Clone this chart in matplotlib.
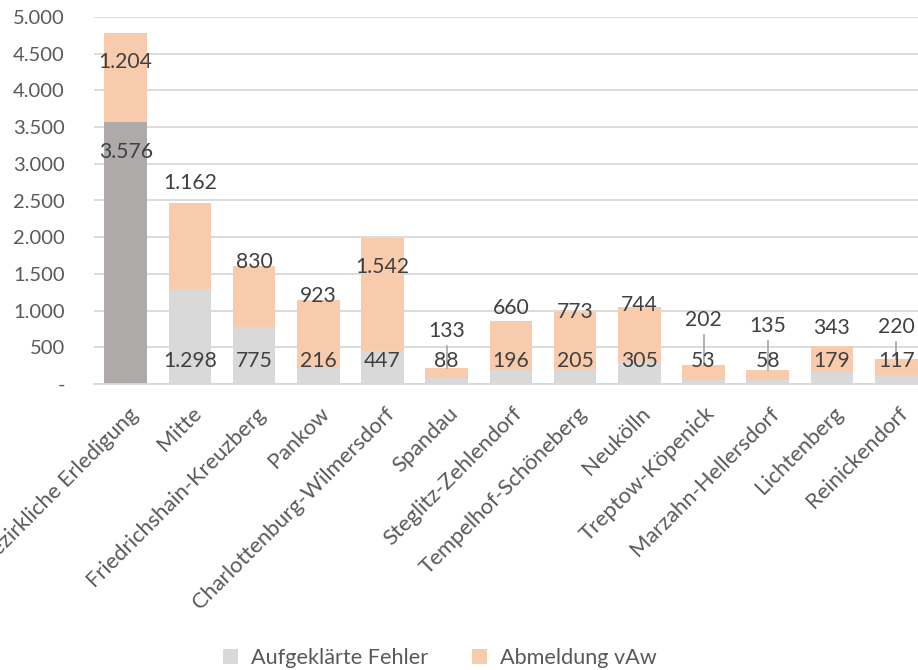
import matplotlib
matplotlib.use('Agg')
import matplotlib.pyplot as plt
import matplotlib.transforms as mtransforms
from matplotlib.patches import Patch
from matplotlib.ticker import FuncFormatter

plt.rcParams['font.family'] = ['Lato', 'DejaVu Sans']

categories = ['Überbezirkliche Erledigung', 'Mitte', 'Friedrichshain-Kreuzberg', 'Pankow',
              'Charlottenburg-Wilmersdorf', 'Spandau', 'Steglitz-Zehlendorf',
              'Tempelhof-Schöneberg', 'Neukölln', 'Treptow-Köpenick',
              'Marzahn-Hellersdorf', 'Lichtenberg', 'Reinickendorf']
aufgeklaert = [3576, 1298, 775, 216, 447, 88, 196, 205, 305, 53, 58, 179, 117]
abmeldung = [1204, 1162, 830, 923, 1542, 133, 660, 773, 744, 202, 135, 343, 220]
series_names = ['Aufgeklärte Fehler', 'Abmeldung vAw']
y_ticks = [0, 500, 1000, 1500, 2000, 2500, 3000, 3500, 4000, 4500, 5000]

# label placement (hand-moved labels as in the source chart)
top_label_y = [4390, 2740, 1665, 1205, 1600, 726, 1030, 985, 1076, 872, 794, 759, 781]
bottom_label_y = [3165, 313, 313, 313, 313, 313, 313, 313, 313, 313, 313, 313, 313]
leader_idx = [5, 9, 10, 12]

grey_light = '#d9d9d9'
grey_dark = '#aeaaaa'
orange = '#f8cbad'
txt = '#595959'
lbl = '#404040'

fig = plt.figure(figsize=(9.18, 6.70), dpi=100)
ax = fig.add_axes([94 / 918, 1 - 384 / 670, 1 - 94 / 918, 367 / 670])

x = list(range(len(categories)))
bottom_colors = [grey_dark] + [grey_light] * (len(categories) - 1)
ax.bar(x, aufgeklaert, width=0.665, color=bottom_colors, zorder=2)
ax.bar(x, abmeldung, width=0.665, bottom=aufgeklaert, color=orange, zorder=2)

for i in x:
    ax.text(i, bottom_label_y[i], f'{aufgeklaert[i]:,}'.replace(',', '.'),
            ha='center', va='center', fontsize=15.2, color=lbl, zorder=4)
    ax.text(i, top_label_y[i], f'{abmeldung[i]:,}'.replace(',', '.'),
            ha='center', va='center', fontsize=15.2, color=lbl, zorder=4)
for i in leader_idx:
    total = aufgeklaert[i] + abmeldung[i]
    ax.plot([i, i], [top_label_y[i] - 210, total], color='#a6a6a6', lw=1.2, zorder=3)

ax.set_xlim(-0.494, 12.34)
ax.set_ylim(0, 5000)
ax.set_yticks(y_ticks)
ax.yaxis.set_major_formatter(FuncFormatter(
    lambda v, p: '-' if v == 0 else f'{int(v):,}'.replace(',', '.')))
ax.grid(axis='y', color=grey_light, lw=1.3, zorder=0)
ax.set_axisbelow(True)
for s in ['top', 'right', 'left']:
    ax.spines[s].set_visible(False)
ax.spines['bottom'].set_color(grey_light)
ax.spines['bottom'].set_linewidth(1.3)
ax.tick_params(axis='y', length=0, pad=21, labelsize=14.5, labelcolor=txt)
ax.tick_params(axis='x', length=0, pad=19, labelsize=15.8, labelcolor=txt)
ax.set_xticks(x)
ax.set_xticklabels(categories, rotation=45, ha='right', va='center', rotation_mode='anchor')
shift = mtransforms.ScaledTranslation(6 / 72, 0, fig.dpi_scale_trans)
for t in ax.get_xticklabels():
    t.set_transform(t.get_transform() + shift)

handles = [Patch(facecolor=grey_light, edgecolor='none'), Patch(facecolor=orange, edgecolor='none')]
fig.legend(handles, series_names, loc='center', bbox_to_anchor=(0.479, 1 - 658 / 670), ncol=2,
           frameon=False, fontsize=15.6, labelcolor=txt, handlelength=0.7, handleheight=0.7,
           handletextpad=0.6, columnspacing=2.0)

fig.savefig('out.png', dpi=100)
